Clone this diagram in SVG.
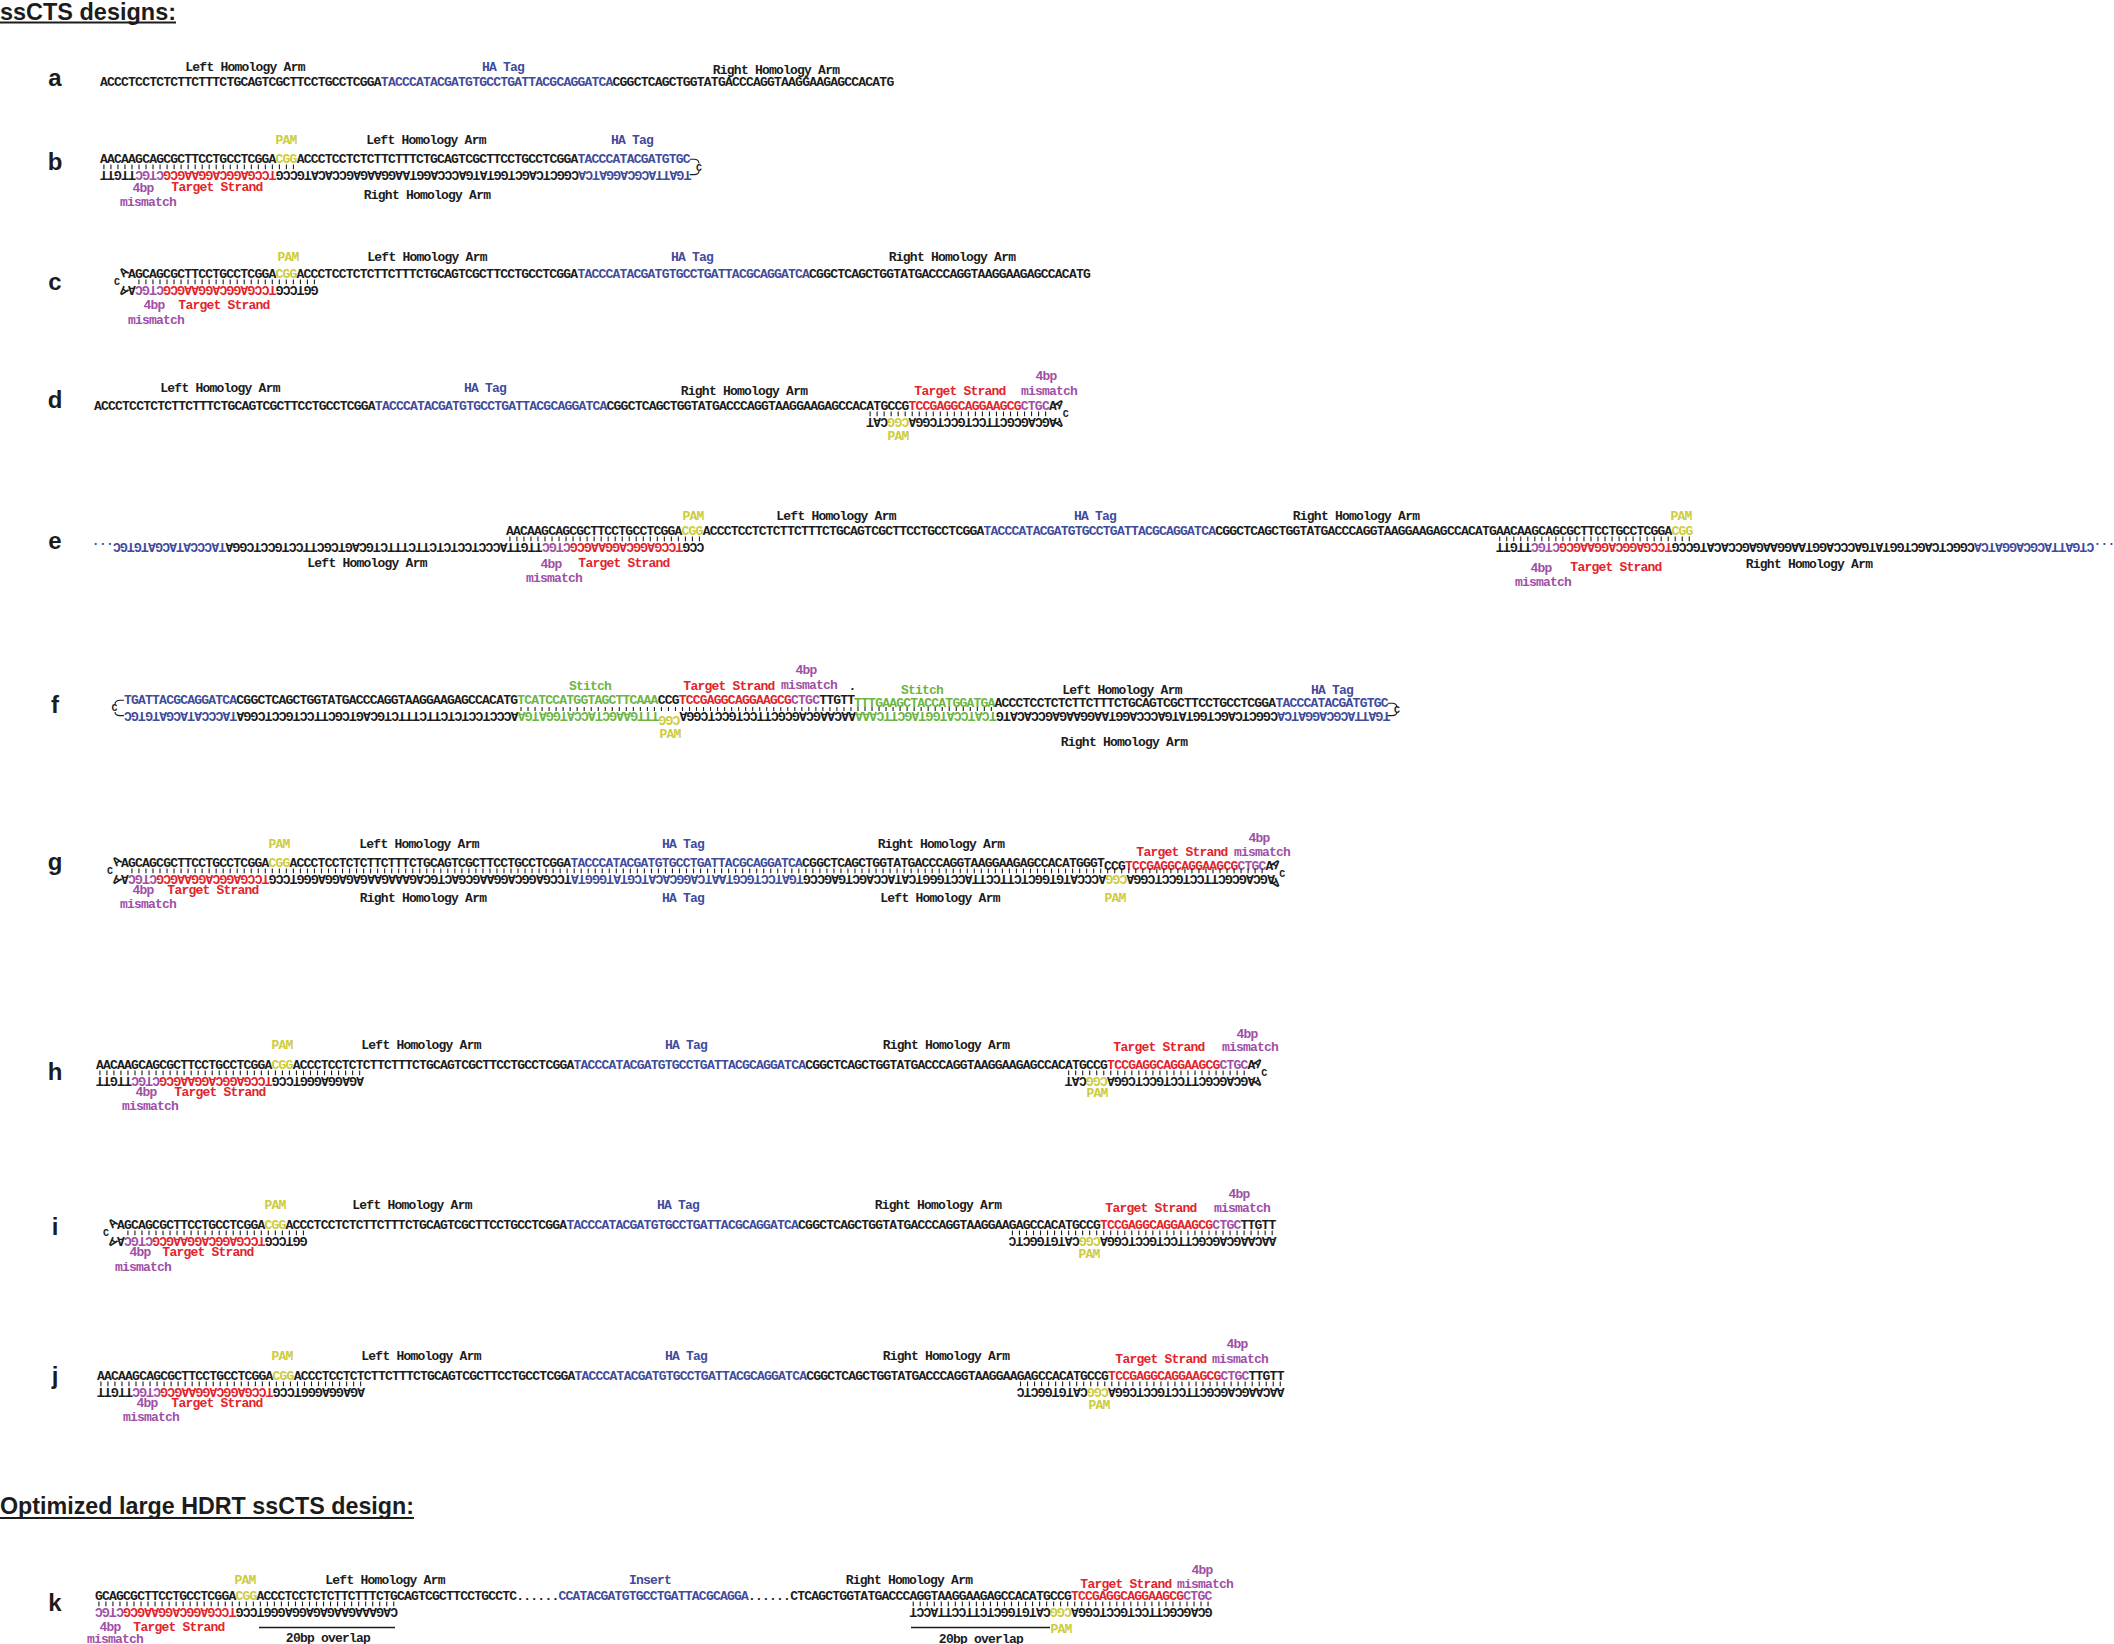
<svg xmlns="http://www.w3.org/2000/svg" width="2114" height="1644" viewBox="0 0 2114 1644">
<style>
.t{font-family:"Liberation Mono","Courier New",monospace;font-weight:700;font-size:13px;letter-spacing:-0.78px;fill:#1c1c1c}
.m{text-anchor:middle}
.k{fill:#1c1c1c}.b{fill:#3f4b9b}.r{fill:#e3242b}.p{fill:#a14fa6}.y{fill:#cccc3c}.g{fill:#6cb543}
.bar{stroke:#1c1c1c;stroke-width:4.6;stroke-dasharray:1.1 5.92;fill:none}
.lp{fill:none;stroke:#1c1c1c;stroke-width:1.1}
.ol{fill:none;stroke:#1c1c1c;stroke-width:1.3}
.lc{font-family:"Liberation Mono",monospace;font-weight:700;font-size:10px;fill:#1c1c1c}
.lt{font-family:"Liberation Sans",Arial,sans-serif;font-weight:700;font-size:24px;fill:#1c1c1c;text-anchor:middle}
.hd{font-family:"Liberation Sans",Arial,sans-serif;font-weight:700;font-size:24px;fill:#1c1c1c}
</style>
<rect width="2114" height="1644" fill="#ffffff"/>
<g id="title-1"><text class="hd" x="0" y="19.5" textLength="176" lengthAdjust="spacingAndGlyphs">ssCTS designs:</text><rect x="0" y="21.5" width="176" height="2" fill="#1c1c1c"/></g>
<g id="title-2"><text class="hd" x="0" y="1514" textLength="414" lengthAdjust="spacingAndGlyphs">Optimized large HDRT ssCTS design:</text><rect x="0" y="1517" width="414" height="2" fill="#1c1c1c"/></g>

<g id="panel-a">
<text class="lt" x="55" y="86">a</text>
<text class="t m" x="245" y="71">Left Homology Arm</text>
<text class="t m b" x="503" y="71">HA Tag</text>
<text class="t m" x="776" y="74">Right Homology Arm</text>
<text class="t" x="100" y="86">ACCCTCCTCTCTTCTTTCTGCAGTCGCTTCCTGCCTCGGA<tspan class="b">TACCCATACGATGTGCCTGATTACGCAGGATCA</tspan>CGGCTCAGCTGGTATGACCCAGGTAAGGAAGAGCCACATG</text>
</g>

<g id="panel-b">
<text class="lt" x="55" y="170">b</text>
<text class="t m y" x="286" y="144">PAM</text>
<text class="t m" x="426" y="144">Left Homology Arm</text>
<text class="t m b" x="632" y="144">HA Tag</text>
<text class="t m p" x="143" y="191.5">4bp</text>
<text class="t m r" x="217" y="190.5">Target Strand</text>
<text class="t m p" x="148" y="205.5">mismatch</text>
<text class="t m" x="427" y="198.5">Right Homology Arm</text>
<g transform="translate(100,0)">
<text class="t" x="0" y="163">AACAAGCAGCGCTTCCTGCCTCGGA<tspan class="y">CGG</tspan>ACCCTCCTCTCTTCTTTCTGCAGTCGCTTCCTGCCTCGGA<tspan class="b">TACCCATACGATGTGC</tspan></text>
<line class="bar" x1="3.35" y1="166.9" x2="193.99" y2="166.9"/>
<text class="t" x="7.8" y="170.8" rotate="180">TTGTT<tspan class="p">CGTC</tspan><tspan class="r">GCGAAGGACGGAGCCT</tspan>GCCGTACACCGAGAAGGAATGGACCCAGTATGGTCGACTCGGC<tspan class="b">ACTAGGACGCATTAGT</tspan></text>
<path class="lp" d="M589.7,159.3H594Q599,159.3 599,163.5M599,171Q599,174.6 594,174.6H589.7"/>
<text class="lc" x="596" y="170.5">C</text>
</g>
</g>

<g id="panel-c">
<text class="lt" x="55" y="290">c</text>
<text class="t m y" x="288" y="261">PAM</text>
<text class="t m" x="427" y="261">Left Homology Arm</text>
<text class="t m b" x="692" y="261">HA Tag</text>
<text class="t m" x="952" y="261">Right Homology Arm</text>
<text class="t m p" x="154" y="308.5">4bp</text>
<text class="t m r" x="224" y="308.5">Target Strand</text>
<text class="t m p" x="156" y="323.5">mismatch</text>
<g transform="translate(128,0)">
<text class="t" x="0" y="278">AGCAGCGCTTCCTGCCTCGGA<tspan class="y">CGG</tspan>ACCCTCCTCTCTTCTTTCTGCAGTCGCTTCCTGCCTCGGA<tspan class="b">TACCCATACGATGTGCCTGATTACGCAGGATCA</tspan>CGGCTCAGCTGGTATGACCCAGGTAAGGAAGAGCCACATG</text>
<line class="bar" x1="10.37" y1="281.9" x2="186.97" y2="281.9"/>
<text class="t" x="7.8" y="285.8" rotate="180">A<tspan class="p">CGTC</tspan><tspan class="r">GCGAAGGACGGAGCCT</tspan>GCCTGG</text>
<text class="t" x="-7.9" y="276.2" transform="rotate(-40 -4 272.5)">A</text>
<text class="lc" x="-14" y="284.8">C</text>
<text class="t" x="-7.9" y="294.5" transform="rotate(-140 -4 290.8)">A</text>
</g>
</g>

<g id="panel-d">
<text class="lt" x="55" y="408">d</text>
<text class="t m" x="220" y="392">Left Homology Arm</text>
<text class="t m b" x="485" y="392">HA Tag</text>
<text class="t m" x="744" y="395">Right Homology Arm</text>
<text class="t m r" x="960" y="395">Target Strand</text>
<text class="t m p" x="1046" y="380">4bp</text>
<text class="t m p" x="1049" y="395">mismatch</text>
<text class="t m y" x="898" y="440">PAM</text>
<g transform="translate(94,0)">
<text class="t" x="0" y="410">ACCCTCCTCTCTTCTTTCTGCAGTCGCTTCCTGCCTCGGA<tspan class="b">TACCCATACGATGTGCCTGATTACGCAGGATCA</tspan>CGGCTCAGCTGGTATGACCCAGGTAAGGAAGAGCCACATGCCG<tspan class="r">TCCGAGGCAGGAAGCG</tspan><tspan class="p">CTGC</tspan>A</text>
<line class="bar" x1="775.55" y1="413.9" x2="952.15" y2="413.9"/>
<text class="t" x="780" y="417.8" rotate="180">TAC<tspan class="y">GGC</tspan>AGGCTCCGTCCTTCGCGACGA</text>
<text class="t" x="960.94" y="408.2" transform="rotate(40 964.84 404.5)">A</text>
<text class="lc" x="968.74" y="416.8">C</text>
<text class="t" x="960.94" y="426.5" transform="rotate(140 964.84 422.8)">A</text>
</g>
</g>

<g id="panel-e">
<text class="lt" x="55" y="549">e</text>
<text class="t m y" x="693" y="520">PAM</text>
<text class="t m" x="836" y="520">Left Homology Arm</text>
<text class="t m b" x="1095" y="520">HA Tag</text>
<text class="t m" x="1356" y="520">Right Homology Arm</text>
<text class="t m y" x="1681" y="520">PAM</text>
<text class="t m" x="367" y="566.5">Left Homology Arm</text>
<text class="t m p" x="551" y="567.5">4bp</text>
<text class="t m r" x="624" y="566.5">Target Strand</text>
<text class="t m p" x="554" y="581.5">mismatch</text>
<text class="t m p" x="1541" y="571.5">4bp</text>
<text class="t m r" x="1616" y="570.5">Target Strand</text>
<text class="t m p" x="1543" y="585.5">mismatch</text>
<text class="t m" x="1809" y="567.5">Right Homology Arm</text>
<g transform="translate(506,0)">
<text class="t" x="0" y="535">AACAAGCAGCGCTTCCTGCCTCGGA<tspan class="y">CGG</tspan>ACCCTCCTCTCTTCTTTCTGCAGTCGCTTCCTGCCTCGGA<tspan class="b">TACCCATACGATGTGCCTGATTACGCAGGATCA</tspan>CGGCTCAGCTGGTATGACCCAGGTAAGGAAGAGCCACATGAACAAGCAGCGCTTCCTGCCTCGGA<tspan class="y">CGG</tspan></text>
<line class="bar" x1="3.35" y1="538.9" x2="193.99" y2="538.9"/>
<line class="bar" x1="993.17" y1="538.9" x2="1183.81" y2="538.9"/>
<text class="t" x="-406.38" y="542.8" rotate="180"><tspan class="b">...CGTGTAGCATACCCAT</tspan>AGGCTCCGTCCTTCGCTGACGTCTTTCTTCTCTCCTCCCATTGTT<tspan class="p">CGTC</tspan><tspan class="r">GCGAAGGACGGAGCCT</tspan>GCC</text>
<text class="t" x="997.62" y="542.8" rotate="180">TTGTT<tspan class="p">CGTC</tspan><tspan class="r">GCGAAGGACGGAGCCT</tspan>GCCGTACACCGAGAAGGAATGGACCCAGTATGGTCGACTCGGC<tspan class="b">ACTAGGACGCATTAGTC...</tspan></text>
</g>
</g>

<g id="panel-f">
<text class="lt" x="55" y="713">f</text>
<text class="t m g" x="590" y="690">Stitch</text>
<text class="t m r" x="729" y="690">Target Strand</text>
<text class="t m p" x="806" y="674">4bp</text>
<text class="t m p" x="809" y="689">mismatch</text>
<text class="t m" x="852" y="690">.</text>
<text class="t m g" x="922" y="694">Stitch</text>
<text class="t m" x="1122" y="694">Left Homology Arm</text>
<text class="t m b" x="1332" y="694">HA Tag</text>
<text class="t m y" x="670" y="738">PAM</text>
<text class="t m" x="1124" y="746">Right Homology Arm</text>
<g transform="translate(124,0)">
<text class="t" x="0" y="704"><tspan class="b">TGATTACGCAGGATCA</tspan>CGGCTCAGCTGGTATGACCCAGGTAAGGAAGAGCCACATG<tspan class="g">TCATCCATGGTAGCTTCAAA</tspan>CCG<tspan class="r">TCCGAGGCAGGAAGCG</tspan><tspan class="p">CTGC</tspan>TTGTT</text>
<text class="t" x="730.08" y="707"><tspan class="g">TTTGAAGCTACCATGGATGA</tspan>ACCCTCCTCTCTTCTTTCTGCAGTCGCTTCCTGCCTCGGA<tspan class="b">TACCCATACGATGTGC</tspan></text>
<line class="bar" x1="396.47" y1="709" x2="867.91" y2="709" style="stroke-width:4.2"/>
<text class="t" x="7.8" y="711.8" rotate="180"><tspan class="b">CGTGTAGCATACCCAT</tspan>AGGCTCCGTCCTTCGCTGACGTCTTTCTTCTCTCCTCCCA<tspan class="g">AGTAGGTACCATCGAAGTTT</tspan><tspan class="y" dy="4">GGC</tspan><tspan dy="-4">AGGCTCCGTCCTTCGCGACGAACAA</tspan><tspan class="g">AAACTTCGATGGTACCTACT</tspan>GTACACCGAGAAGGAATGGACCCAGTATGGTCGACTCGGC<tspan class="b">ACTAGGACGCATTAGT</tspan></text>
<path class="lp" d="M0,700.3H-4Q-9,700.3 -9,704.5M-9,712Q-9,715.6 -4,715.6H0"/>
<text class="lc" x="-12.5" y="711.2">C</text>
<path class="lp" d="M1263.6,703.3H1268Q1273,703.3 1273,707.5M1273,712Q1273,715.6 1268,715.6H1263.6"/>
<text class="lc" x="1270" y="712.6">C</text>
</g>
</g>

<g id="panel-g">
<text class="lt" x="55" y="870">g</text>
<text class="t m y" x="279" y="848">PAM</text>
<text class="t m" x="419" y="848">Left Homology Arm</text>
<text class="t m b" x="683" y="848">HA Tag</text>
<text class="t m" x="941" y="848">Right Homology Arm</text>
<text class="t m r" x="1182" y="856">Target Strand</text>
<text class="t m p" x="1259" y="842">4bp</text>
<text class="t m p" x="1262" y="856">mismatch</text>
<text class="t m p" x="143" y="893.5">4bp</text>
<text class="t m r" x="213" y="893.5">Target Strand</text>
<text class="t m p" x="148" y="907.5">mismatch</text>
<text class="t m" x="423" y="901.5">Right Homology Arm</text>
<text class="t m b" x="683" y="901.5">HA Tag</text>
<text class="t m" x="940" y="901.5">Left Homology Arm</text>
<text class="t m y" x="1115" y="901.5">PAM</text>
<g transform="translate(121,0)">
<text class="t" x="0" y="867">AGCAGCGCTTCCTGCCTCGGA<tspan class="y">CGG</tspan>ACCCTCCTCTCTTCTTTCTGCAGTCGCTTCCTGCCTCGGA<tspan class="b">TACCCATACGATGTGCCTGATTACGCAGGATCA</tspan>CGGCTCAGCTGGTATGACCCAGGTAAGGAAGAGCCACATGGGT<tspan dy="3">CCG</tspan><tspan class="r">TCCGAGGCAGGAAGCG</tspan><tspan class="p">CTGC</tspan>A</text>
<line class="bar" x1="10.37" y1="870.9" x2="1141.69" y2="870.9"/>
<text class="t" x="7.8" y="874.8" rotate="180">A<tspan class="p">CGTC</tspan><tspan class="r">GCGAAGGACGGAGCCT</tspan>GCCTGGGAGGAGAGAAGAAAGACGTCAGCGAAGGACGGAGCCT<tspan class="b">ATGGGTATGCTACACGGACTAATGCGTCCTAGT</tspan>GCCGAGTCGACCATACTGGGTCCATTCCTTCTCGGTGTACCCA<tspan class="y">GGC</tspan>AGGCTCCGTCCTTCGCGACGA</text>
<text class="t" x="-7.9" y="865.2" transform="rotate(-40 -4 861.5)">A</text>
<text class="lc" x="-14" y="873.8">C</text>
<text class="t" x="-7.9" y="883.5" transform="rotate(-140 -4 879.8)">A</text>
<text class="t" x="1150.48" y="868.2" transform="rotate(40 1154.38 864.5)">A</text>
<text class="lc" x="1158.28" y="876.8">C</text>
<text class="t" x="1150.48" y="886.5" transform="rotate(140 1154.38 882.8)">A</text>
</g>
</g>

<g id="panel-h">
<text class="lt" x="55" y="1080">h</text>
<text class="t m y" x="282" y="1049">PAM</text>
<text class="t m" x="421" y="1049">Left Homology Arm</text>
<text class="t m b" x="686" y="1049">HA Tag</text>
<text class="t m" x="946" y="1049">Right Homology Arm</text>
<text class="t m r" x="1159" y="1051">Target Strand</text>
<text class="t m p" x="1247" y="1038">4bp</text>
<text class="t m p" x="1250" y="1051">mismatch</text>
<text class="t m p" x="146" y="1095.5">4bp</text>
<text class="t m r" x="220" y="1095.5">Target Strand</text>
<text class="t m p" x="150" y="1109.5">mismatch</text>
<text class="t m y" x="1097" y="1096.5">PAM</text>
<g transform="translate(96,0)">
<text class="t" x="0" y="1069">AACAAGCAGCGCTTCCTGCCTCGGA<tspan class="y">CGG</tspan>ACCCTCCTCTCTTCTTTCTGCAGTCGCTTCCTGCCTCGGA<tspan class="b">TACCCATACGATGTGCCTGATTACGCAGGATCA</tspan>CGGCTCAGCTGGTATGACCCAGGTAAGGAAGAGCCACATGCCG<tspan class="r">TCCGAGGCAGGAAGCG</tspan><tspan class="p">CTGC</tspan>A</text>
<line class="bar" x1="3.35" y1="1072.9" x2="264.19" y2="1072.9"/>
<line class="bar" x1="972.11" y1="1072.9" x2="1148.71" y2="1072.9"/>
<text class="t" x="7.8" y="1076.8" rotate="180">TTGTT<tspan class="p">CGTC</tspan><tspan class="r">GCGAAGGACGGAGCCT</tspan>GCCTGGGAGGAGA</text>
<text class="t" x="976.56" y="1076.8" rotate="180">TAC<tspan class="y">GGC</tspan>AGGCTCCGTCCTTCGCGACGA</text>
<text class="t" x="1157.5" y="1067.2" transform="rotate(40 1161.4 1063.5)">A</text>
<text class="lc" x="1165.3" y="1075.8">C</text>
<text class="t" x="1157.5" y="1085.5" transform="rotate(140 1161.4 1081.8)">A</text>
</g>
</g>

<g id="panel-i">
<text class="lt" x="55" y="1235">i</text>
<text class="t m y" x="275" y="1209">PAM</text>
<text class="t m" x="412" y="1209">Left Homology Arm</text>
<text class="t m b" x="678" y="1209">HA Tag</text>
<text class="t m" x="938" y="1209">Right Homology Arm</text>
<text class="t m r" x="1151" y="1212">Target Strand</text>
<text class="t m p" x="1239" y="1198">4bp</text>
<text class="t m p" x="1242" y="1212">mismatch</text>
<text class="t m p" x="140" y="1255.5">4bp</text>
<text class="t m r" x="208" y="1255.5">Target Strand</text>
<text class="t m p" x="143" y="1270.5">mismatch</text>
<text class="t m y" x="1089" y="1257.5">PAM</text>
<g transform="translate(117,0)">
<text class="t" x="0" y="1229">AGCAGCGCTTCCTGCCTCGGA<tspan class="y">CGG</tspan>ACCCTCCTCTCTTCTTTCTGCAGTCGCTTCCTGCCTCGGA<tspan class="b">TACCCATACGATGTGCCTGATTACGCAGGATCA</tspan>CGGCTCAGCTGGTATGACCCAGGTAAGGAAGAGCCACATGCCG<tspan class="r">TCCGAGGCAGGAAGCG</tspan><tspan class="p">CTGC</tspan>TTGTT</text>
<line class="bar" x1="10.37" y1="1232.9" x2="186.97" y2="1232.9"/>
<line class="bar" x1="894.89" y1="1232.9" x2="1155.73" y2="1232.9"/>
<text class="t" x="7.8" y="1236.8" rotate="180">A<tspan class="p">CGTC</tspan><tspan class="r">GCGAAGGACGGAGCCT</tspan>GCCTGG</text>
<text class="t" x="899.34" y="1236.8" rotate="180">CTCGGTGTAC<tspan class="y">GGC</tspan>AGGCTCCGTCCTTCGCGACGAACAA</text>
<text class="t" x="-7.9" y="1227.2" transform="rotate(-40 -4 1223.5)">A</text>
<text class="lc" x="-14" y="1235.8">C</text>
<text class="t" x="-7.9" y="1245.5" transform="rotate(-140 -4 1241.8)">A</text>
</g>
</g>

<g id="panel-j">
<text class="lt" x="55" y="1384">j</text>
<text class="t m y" x="282" y="1360">PAM</text>
<text class="t m" x="421" y="1360">Left Homology Arm</text>
<text class="t m b" x="686" y="1360">HA Tag</text>
<text class="t m" x="946" y="1360">Right Homology Arm</text>
<text class="t m r" x="1161" y="1363">Target Strand</text>
<text class="t m p" x="1237" y="1348">4bp</text>
<text class="t m p" x="1240" y="1363">mismatch</text>
<text class="t m p" x="147" y="1406.5">4bp</text>
<text class="t m r" x="217" y="1406.5">Target Strand</text>
<text class="t m p" x="151" y="1420.5">mismatch</text>
<text class="t m y" x="1099" y="1408.5">PAM</text>
<g transform="translate(97,0)">
<text class="t" x="0" y="1380">AACAAGCAGCGCTTCCTGCCTCGGA<tspan class="y">CGG</tspan>ACCCTCCTCTCTTCTTTCTGCAGTCGCTTCCTGCCTCGGA<tspan class="b">TACCCATACGATGTGCCTGATTACGCAGGATCA</tspan>CGGCTCAGCTGGTATGACCCAGGTAAGGAAGAGCCACATGCCG<tspan class="r">TCCGAGGCAGGAAGCG</tspan><tspan class="p">CTGC</tspan>TTGTT</text>
<line class="bar" x1="3.35" y1="1383.9" x2="264.19" y2="1383.9"/>
<line class="bar" x1="922.97" y1="1383.9" x2="1183.81" y2="1383.9"/>
<text class="t" x="7.8" y="1387.8" rotate="180">TTGTT<tspan class="p">CGTC</tspan><tspan class="r">GCGAAGGACGGAGCCT</tspan>GCCTGGGAGGAGA</text>
<text class="t" x="927.42" y="1387.8" rotate="180">CTCGGTGTAC<tspan class="y">GGC</tspan>AGGCTCCGTCCTTCGCGACGAACAA</text>
</g>
</g>

<g id="panel-k">
<text class="lt" x="55" y="1611">k</text>
<text class="t m y" x="245" y="1584">PAM</text>
<text class="t m" x="385" y="1584">Left Homology Arm</text>
<text class="t m b" x="650" y="1584">Insert</text>
<text class="t m" x="909" y="1584">Right Homology Arm</text>
<text class="t m r" x="1126" y="1588">Target Strand</text>
<text class="t m p" x="1202" y="1574">4bp</text>
<text class="t m p" x="1205" y="1588">mismatch</text>
<text class="t m p" x="110" y="1631">4bp</text>
<text class="t m r" x="179" y="1631">Target Strand</text>
<text class="t m p" x="115" y="1643">mismatch</text>
<text class="t m" x="328" y="1642">20bp overlap</text>
<text class="t m" x="981" y="1642.5">20bp overlap</text>
<text class="t m y" x="1061" y="1633">PAM</text>
<line class="ol" x1="259" y1="1627.5" x2="395" y2="1627.5"/>
<line class="ol" x1="911" y1="1627.5" x2="1050" y2="1627.5"/>
<g transform="translate(95,0)">
<text class="t" x="0" y="1600">GCAGCGCTTCCTGCCTCGGA<tspan class="y">CGG</tspan>ACCCTCCTCTCTTCTTTCTGCAGTCGCTTCCTGCCTC......<tspan class="b">CCATACGATGTGCCTGATTACGCAGGA</tspan>......CTCAGCTGGTATGACCCAGGTAAGGAAGAGCCACATGCCG<tspan class="r">TCCGAGGCAGGAAGCG</tspan><tspan class="p">CTGC</tspan></text>
<line class="bar" x1="3.35" y1="1603.9" x2="299.29" y2="1603.9"/>
<line class="bar" x1="817.67" y1="1603.9" x2="1113.61" y2="1603.9"/>
<text class="t" x="7.8" y="1607.8" rotate="180"><tspan class="p">CGTC</tspan><tspan class="r">GCGAAGGACGGAGCCT</tspan>GCCTGGGAGGAGAGAAGAAAGAC</text>
<text class="t" x="822.12" y="1607.8" rotate="180">TCCATTCCTTCTCGGTGTAC<tspan class="y">GGC</tspan>AGGCTCCGTCCTTCGCGACG</text>
</g>
</g>
</svg>
